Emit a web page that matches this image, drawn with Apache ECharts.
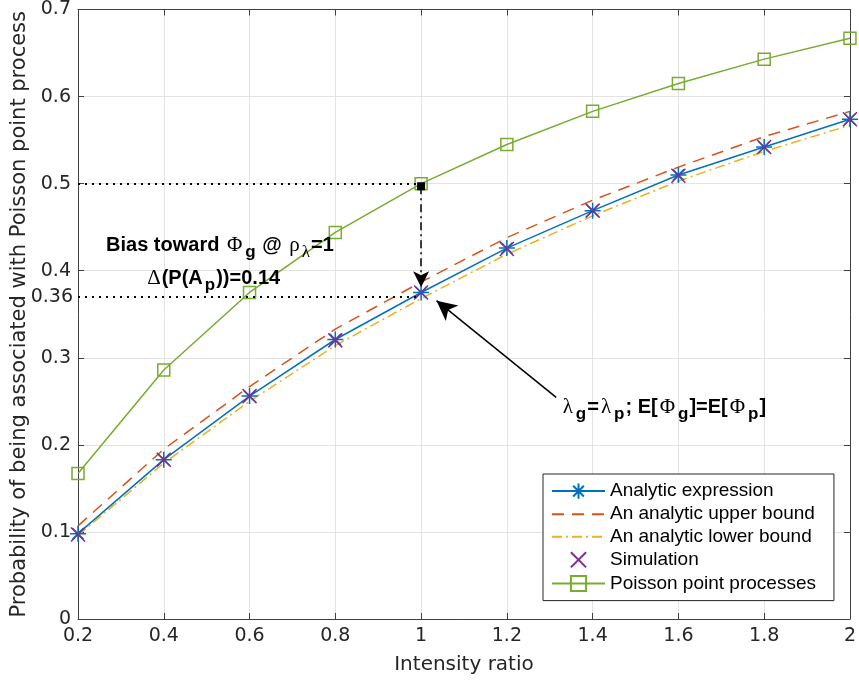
<!DOCTYPE html>
<html>
<head>
<meta charset="utf-8">
<script src="https://cdn.jsdelivr.net/npm/echarts@6/dist/echarts.min.js"></script>
<style>html,body{margin:0;padding:0;background:#fff;}#c{width:859px;height:688px;}</style>
</head>
<body>
<div id="c"></div>
<script>
// ---- data ----
const intensity = [0.2, 0.4, 0.6, 0.8, 1.0, 1.2, 1.4, 1.6, 1.8, 2.0];
const analytic = [0.098, 0.183, 0.256, 0.321, 0.375, 0.426, 0.469, 0.510, 0.542, 0.574];
const upperBound = [0.107, 0.195, 0.267, 0.333, 0.387, 0.438, 0.481, 0.519, 0.554, 0.583];
const lowerBound = [0.096, 0.179, 0.250, 0.314, 0.368, 0.419, 0.463, 0.503, 0.537, 0.567];
const simulation = [0.097, 0.183, 0.256, 0.320, 0.375, 0.425, 0.469, 0.509, 0.542, 0.574];
const ppp = [0.167, 0.286, 0.375, 0.444, 0.500, 0.545, 0.583, 0.615, 0.643, 0.667];
const seriesNames = ['Analytic expression', 'An analytic upper bound', 'An analytic lower bound', 'Simulation', 'Poisson point processes'];
// reference lines: [y, label]
const refLevels = [[0.5, ''], [0.37, '0.36']];
const refXStart = 0.2, refXEnd = 1.0;
// vertical arrow (bias) from/to
const biasArrow = [[1.0, 0.497], [1.0, 0.381]];
// diagonal arrow from/to
const eqArrow = [[1.315, 0.2545], [1.036, 0.3656]];
// annotation anchor points
const noteBias = [0.531, 0.4286];
const noteDelta = [0.514, 0.391];
const noteEq = [1.565, 0.243];

const pts = arr => intensity.map((x, i) => [x, arr[i]]);

const C = { blue: '#0072BD', red: '#D95319', yellow: '#EDB120', purple: '#7E2F8E', green: '#77AC30' };
const axisCol = '#404040';
const tickFont = 'DejaVu Sans';
const clear = 'rgba(0,0,0,0)';

const asterisk = 'path://M0,6 L12,6 M6,0 L6,12 M1.76,1.76 L10.24,10.24 M10.24,1.76 L1.76,10.24';
const cross = 'path://M0,0 L10,10 M10,0 L0,10';

const richStyles = {
  b: { fontFamily: 'Liberation Sans', fontWeight: 'bold', fontSize: 20, color: '#000', lineHeight: 30, verticalAlign: 'middle' },
  s: { fontFamily: 'Liberation Serif', fontWeight: 'normal', fontSize: 21, color: '#000', lineHeight: 30, verticalAlign: 'middle', padding: [0, 1, 0, 2] },
  bsub: { fontFamily: 'Liberation Sans', fontWeight: 'bold', fontSize: 17, color: '#000', lineHeight: 10, verticalAlign: 'bottom', padding: [0, 1, 0, 2] },
  ssub: { fontFamily: 'Liberation Serif', fontWeight: 'normal', fontSize: 17, color: '#000', lineHeight: 10, verticalAlign: 'bottom', padding: [0, 1, 0, 1] }
};

const chart = echarts.init(document.getElementById('c'), null, { renderer: 'canvas' });

const makeAxisX = (pos, showLabel) => ({
  type: 'value', position: pos, min: 0.2, max: 2, interval: 0.2,
  name: showLabel ? 'Intensity ratio' : '', nameLocation: 'middle', nameGap: 36,
  nameTextStyle: { fontFamily: tickFont, fontSize: 20, color: '#262626' },
  axisLine: { show: true, onZero: false, lineStyle: { color: axisCol, width: 1 } },
  axisTick: { show: true, inside: true, length: 6, lineStyle: { color: axisCol } },
  axisLabel: { show: showLabel, margin: 8, fontFamily: tickFont, fontSize: 19, color: '#262626', formatter: v => String(+v.toFixed(1)) },
  splitLine: { show: showLabel, lineStyle: { color: '#e3e3e3', width: 1 } }
});
const makeAxisY = (pos, showLabel) => ({
  type: 'value', position: pos, min: 0, max: 0.7, interval: 0.1,
  name: showLabel ? 'Probability of being associated with Poisson point process' : '',
  nameLocation: 'middle', nameGap: 37, nameRotate: 90,
  nameTextStyle: { fontFamily: tickFont, fontSize: 21, color: '#262626' },
  axisLine: { show: true, onZero: false, lineStyle: { color: axisCol, width: 1 } },
  axisTick: { show: true, inside: true, length: 6, lineStyle: { color: axisCol } },
  axisLabel: { show: showLabel, margin: 7, fontFamily: tickFont, fontSize: 19, color: '#262626', formatter: v => String(+v.toFixed(1)) },
  splitLine: { show: showLabel, lineStyle: { color: '#e3e3e3', width: 1 } }
});

const option = {
  animation: false,
  backgroundColor: '#fff',
  grid: { left: 78, right: 8, top: 7, bottom: 69, containLabel: false },
  xAxis: [makeAxisX('bottom', true), makeAxisX('top', false)],
  yAxis: [makeAxisY('left', true), makeAxisY('right', false)],
  legend: {
    data: seriesNames,
    orient: 'vertical', left: 543, top: 474,
    backgroundColor: '#fff', borderColor: '#262626', borderWidth: 1,
    padding: [7, 18, 7, 8],
    itemWidth: 53, itemHeight: 19, itemGap: 3.5,
    textStyle: { fontFamily: 'Liberation Sans', fontSize: 19, color: '#000' }
  },
  series: [
    {
      name: seriesNames[0], type: 'line', data: pts(analytic),
      symbol: asterisk, symbolSize: 16,
      lineStyle: { color: C.blue, width: 1.5 },
      itemStyle: { color: 'none', borderColor: C.blue, borderWidth: 1.5 }
    },
    {
      name: seriesNames[1], type: 'line', data: pts(upperBound), symbol: 'none',
      lineStyle: { color: C.red, width: 1.5, type: [12, 8] },
      itemStyle: { color: clear, borderColor: clear, borderWidth: 0, opacity: 0 }
    },
    {
      name: seriesNames[2], type: 'line', data: pts(lowerBound), symbol: 'none',
      lineStyle: { color: C.yellow, width: 1.5, type: [10, 4, 2, 4] },
      itemStyle: { color: clear, borderColor: clear, borderWidth: 0, opacity: 0 }
    },
    {
      name: seriesNames[3], type: 'line', data: pts(simulation),
      symbol: cross, symbolSize: 14,
      lineStyle: { width: 0, opacity: 0, color: C.purple },
      itemStyle: { color: 'none', borderColor: C.purple, borderWidth: 1.5 }
    },
    {
      name: seriesNames[4], type: 'line', data: pts(ppp),
      symbol: 'rect', symbolSize: 12,
      lineStyle: { color: C.green, width: 1.5 },
      itemStyle: { color: 'none', borderColor: C.green, borderWidth: 1.5 }
    },
    {
      name: 'annotations', type: 'line', data: [], symbol: 'none',
      markLine: {
        silent: true, animation: false,
        data: [
          ...refLevels.map(([y, lab]) => [
            { coord: [refXStart, y], symbol: 'none',
              lineStyle: { color: '#000', width: 2, type: [2, 5] },
              label: { show: !!lab, position: 'start', formatter: lab, distance: 5, fontFamily: tickFont, fontSize: 19, color: '#262626' } },
            { coord: [refXEnd, y], symbol: 'none' }
          ]),
          [
            { coord: biasArrow[0], symbol: 'none', lineStyle: { color: '#000', width: 1.5, type: [8, 4, 2, 4] }, label: { show: false } },
            { coord: biasArrow[1], symbol: 'arrow', symbolSize: [12, 16] }
          ],
          [
            { coord: eqArrow[0], symbol: 'none', lineStyle: { color: '#000', width: 1.5, type: 'solid' }, label: { show: false } },
            { coord: eqArrow[1], symbol: 'arrow', symbolSize: [15, 20] }
          ]
        ]
      },
      markPoint: {
        silent: true, animation: false,
        data: [
          { coord: biasArrow[0], symbol: 'rect', symbolSize: 8, itemStyle: { color: '#000' }, label: { show: false } },
          { coord: noteBias, symbol: 'circle', symbolSize: 1, itemStyle: { color: clear },
            label: { show: true, position: 'inside', rich: richStyles,
              formatter: '{b|Bias toward }{s|Φ}{bsub|g}{b| @ }{s|ρ}{ssub|λ}{b|=1}' } },
          { coord: noteDelta, symbol: 'circle', symbolSize: 1, itemStyle: { color: clear },
            label: { show: true, position: 'inside', rich: richStyles,
              formatter: '{s|Δ}{b|(P(A}{bsub|p}{b|))=0.14}' } },
          { coord: noteEq, symbol: 'circle', symbolSize: 1, itemStyle: { color: clear },
            label: { show: true, position: 'inside', rich: richStyles,
              formatter: '{s|λ}{bsub|g}{b|=}{s|λ}{bsub|p}{b|; E[}{s|Φ}{bsub|g}{b|]=E[}{s|Φ}{bsub|p}{b|]}' } }
        ]
      }
    }
  ]
};
chart.setOption(option);
</script>
</body>
</html>
